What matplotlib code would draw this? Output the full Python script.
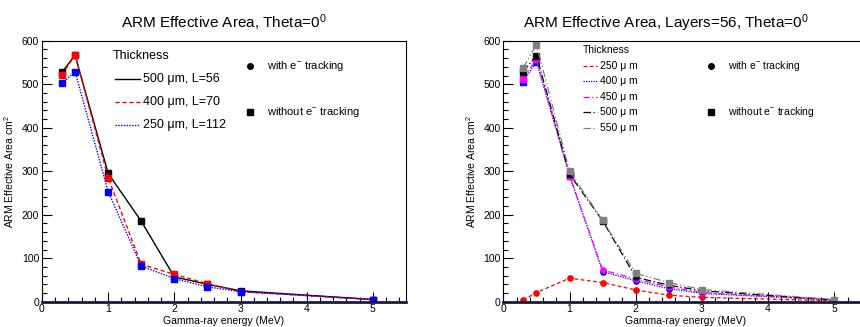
import matplotlib
matplotlib.use("Agg")
import matplotlib.pyplot as plt
from matplotlib.ticker import MultipleLocator
from matplotlib.lines import Line2D

plt.rcParams['font.family'] = ['Liberation Sans', 'DejaVu Sans']
plt.rcParams['mathtext.fontset'] = 'custom'
plt.rcParams['mathtext.rm'] = 'Liberation Sans'
plt.rcParams['mathtext.it'] = 'Liberation Sans'

energy = [0.3, 0.5, 1.0, 1.5, 2.0, 2.5, 3.0, 5.0]

# left panel: thickness / layers
left_labels = ["500 \u03bcm, L=56", "400 \u03bcm, L=70", "250 \u03bcm, L=112"]
left_500 = [527, 567, 295, 185, 57, 40, 25, 5]
left_400 = [521, 567, 285, 86, 63, 41, 23, 5]
left_250 = [502, 529, 253, 82, 53, 34, 23, 5]

# right panel: layers=56
right_labels = ["250 \u03bc m", "400 \u03bc m", "450 \u03bc m", "500 \u03bc m", "550 \u03bc m"]
right_250 = [4, 21, 54, 44, 27, 15, 10, 2]
right_400 = [506, 552, 290, 69, 48, 30, 19, 4]
right_450 = [513, 557, 290, 73, 52, 34, 21, 4]
right_500 = [529, 566, 293, 186, 56, 38, 25, 4]
right_550 = [538, 591, 300, 187, 65, 44, 28, 5]

fig = plt.figure(figsize=(8.6, 3.27), dpi=100)


def style_axes(ax):
    ax.set_xlim(0, 5.5)
    ax.set_ylim(0, 600)
    ax.xaxis.set_major_locator(MultipleLocator(1))
    ax.xaxis.set_minor_locator(MultipleLocator(0.2))
    ax.yaxis.set_major_locator(MultipleLocator(100))
    ax.yaxis.set_minor_locator(MultipleLocator(20))
    ax.tick_params(which='both', direction='in', labelsize=7.5, width=0.8, pad=2)
    ax.tick_params(which='major', length=7)
    ax.tick_params(which='minor', length=3.5)
    for s in ['left', 'top', 'right']:
        ax.spines[s].set_linewidth(0.8)
    ax.spines['bottom'].set_linewidth(2.0)
    ax.spines['bottom'].set_color('#1a1a40')
    ax.set_xlabel('Gamma-ray energy (MeV)', fontsize=7.5, labelpad=1)
    ax.set_ylabel('ARM Effective Area cm$^2$', fontsize=7.5, labelpad=4)


# ---- left ----
ax1 = fig.add_axes([0.0488, 0.0774, 0.4233, 0.798])
style_axes(ax1)
ax1.plot(energy, left_500, color='black', ls='-', lw=1, marker='s', ms=3.8, label=left_labels[0])
ax1.plot(energy, left_400, color='red', ls=(0, (3, 2)), lw=1, marker='s', ms=3.8, label=left_labels[1])
ax1.plot(energy, left_250, color='blue', ls=(0, (1, 1)), lw=1, marker='s', ms=3.8, label=left_labels[2])
ax1.set_title('ARM Effective Area, Theta=0$^0$', fontsize=11, pad=9)

tr = fig.transFigure
W, H = 860.0, 327.0
fig.text(113 / W, 1 - 56 / H, 'Thickness', fontsize=9, va='center', transform=tr)
for i, (col, ls) in enumerate([('black', '-'), ('red', (0, (3, 2))), ('blue', (0, (1, 1)))]):
    y = 1 - (79 + 23 * i) / H
    fig.add_artist(Line2D([115 / W, 140 / W], [y, y], color=col, ls=ls, lw=1, transform=tr))
    fig.text(143 / W, y, left_labels[i], fontsize=9, va='center', transform=tr)
fig.add_artist(Line2D([250 / W], [1 - 66 / H], marker='o', ms=4, color='black', ls='none', transform=tr))
fig.text(267 / W, 1 - 66 / H, 'with e$^{-}$ tracking', fontsize=8, va='center', transform=tr)
fig.add_artist(Line2D([250 / W], [1 - 112 / H], marker='s', ms=4, color='black', ls='none', transform=tr))
fig.text(267 / W, 1 - 112 / H, 'without e$^{-}$ tracking', fontsize=8, va='center', transform=tr)

# ---- right ----
ax2 = fig.add_axes([0.5853, 0.0774, 0.4233, 0.798])
style_axes(ax2)
sq_circ = ['s', 's', 's', 'o', 'o', 'o', 'o', 'o']
series = [
    (right_250, 'red', (0, (3, 2)), ['o'] * 8),
    (right_400, 'blue', (0, (1, 1)), sq_circ),
    (right_450, 'magenta', (0, (5, 2, 1, 2)), sq_circ),
    (right_500, 'black', (0, (6, 2, 1, 2)), ['s'] * 4 + ['o'] * 4),
    (right_550, 'grey', (0, (6, 2, 1, 2, 1, 2)), ['s'] * 8),
]
for vals, col, ls, mk in series:
    ax2.plot(energy, vals, color=col, ls=ls, lw=0.9)
    for xv, yv, m in zip(energy, vals, mk):
        ax2.plot([xv], [yv], color=col, marker=m, ms=3.8, ls='none')
ax2.set_title('ARM Effective Area, Layers=56, Theta=0$^0$', fontsize=11, pad=9, x=0.445)

fig.text(583 / W, 1 - 50 / H, 'Thickness', fontsize=7.5, va='center', transform=tr)
for i, (vals, col, ls, mk) in enumerate(series):
    y = 1 - (66 + 15.4 * i) / H
    fig.add_artist(Line2D([583 / W, 597 / W], [y, y], color=col, ls=ls, lw=0.9, transform=tr))
    fig.text(600 / W, y, right_labels[i], fontsize=7.5, va='center', transform=tr)
fig.add_artist(Line2D([711 / W], [1 - 66 / H], marker='o', ms=4, color='black', ls='none', transform=tr))
fig.text(728 / W, 1 - 66 / H, 'with e$^{-}$ tracking', fontsize=7.5, va='center', transform=tr)
fig.add_artist(Line2D([711 / W], [1 - 112 / H], marker='s', ms=4, color='black', ls='none', transform=tr))
fig.text(728 / W, 1 - 112 / H, 'without e$^{-}$ tracking', fontsize=7.5, va='center', transform=tr)

fig.savefig('out.png', dpi=100)
